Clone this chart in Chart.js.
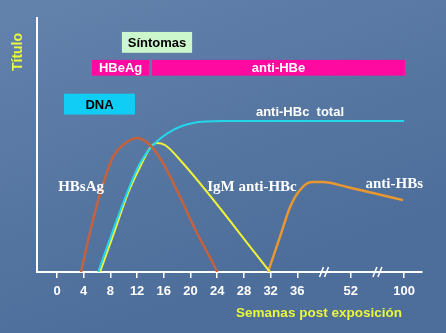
<!DOCTYPE html>
<html>
<head>
<meta charset="utf-8">
<script src="https://cdn.jsdelivr.net/npm/chart.js@4"></script>
<style>
  html, body { margin: 0; padding: 0; background: #5878a4; }
  #wrap { width: 446px; height: 333px; }
</style>
</head>
<body>
<div id="wrap"><canvas id="mycanvas" width="446" height="333"></canvas></div>
<script>
// x values are tick positions on the (broken) week axis: 0 = week 0, 1 = week 4 ... 9 = week 36, 11 = week 52, 13 = week 100
var tickLabels = ['0', '4', '8', '12', '16', '20', '24', '28', '32', '36', '', '52', '', '100'];
var breakTicks = [10, 12];

var hbsagX = [0.9, 0.94, 1.35, 1.69, 2.10, 2.62, 3.0, 3.48, 3.97, 4.61, 5.24, 5.84, 6.0];
var hbsagY = [0, 2, 20.5, 33.5, 45.3, 51.2, 52.8, 50, 42.9, 29.5, 15.4, 3.5, 0];

var hbcTotalX = [1.54, 2.10, 2.62, 3.11, 3.60, 4.34, 5.09, 6.22, 13.0];
var hbcTotalY = [0, 16.5, 31.1, 42.9, 50, 55.9, 58.7, 59.4, 59.4];

var igmX = [1.61, 2.17, 2.66, 3.18, 3.48, 3.75, 4.04, 4.61, 7.98];
var igmY = [0, 16.5, 31.1, 42.9, 48.8, 50.8, 50, 44.1, 0];

var hbsX = [7.9, 8.35, 8.73, 9.10, 9.55, 9.96, 10.86, 11.83, 12.96];
var hbsY = [0, 13.8, 25.6, 32.3, 35.4, 35.4, 33.5, 31.1, 28.3];

// marker bars: label, x range, y range
var boxLabels = ['Síntomas', 'HBeAg', 'anti-HBe', 'DNA'];
var boxX = [[2.43, 5.06], [1.31, 3.45], [3.56, 13.03], [0.26, 2.92]];
var boxY = [[86.3, 94.5], [77.3, 83.5], [77.3, 83.5], [62, 70.2]];
var boxColors = ['#ccf7cc', '#ff0aa0', '#ff0aa0', '#10cdf5'];
var boxText = ['#000000', '#ffffff', '#ffffff', '#000000'];

function pts(xs, ys) {
    var out = [];
    for (var i in xs) {
        out.push({x: xs[i], y: ys[i]});
    }
    return out;
}

var bgPlugin = {
    id: 'bg',
    beforeDraw: function(chart) {
        var c = chart.ctx;
        var g = c.createLinearGradient(0, 0, 120, 333);
        g.addColorStop(0, '#6383ad');
        g.addColorStop(1, '#4d6d9a');
        c.save();
        c.fillStyle = g;
        c.fillRect(0, 0, chart.width, chart.height);
        c.restore();
    }
};

var notesPlugin = {
    id: 'notes',
    afterDraw: function(chart) {
        var c = chart.ctx;
        var xs = chart.scales.x, ys = chart.scales.y;
        c.save();

        // bars on top
        for (var i = 0; i < boxLabels.length; i++) {
            var x0 = xs.getPixelForValue(boxX[i][0]);
            var x1 = xs.getPixelForValue(boxX[i][1]);
            var y0 = ys.getPixelForValue(boxY[i][1]);
            var y1 = ys.getPixelForValue(boxY[i][0]);
            c.fillStyle = boxColors[i];
            c.fillRect(x0, y0, x1 - x0, y1 - y0);
            c.fillStyle = boxText[i];
            c.font = 'bold 13px "Liberation Sans", Arial, sans-serif';
            c.textAlign = 'center';
            c.textBaseline = 'middle';
            c.fillText(boxLabels[i], (x0 + x1) / 2, (y0 + y1) / 2 + 1);
        }

        // curve labels
        c.fillStyle = '#ffffff';
        c.textBaseline = 'middle';
        c.textAlign = 'center';
        c.font = 'bold 13px "Liberation Sans", Arial, sans-serif';
        c.fillText('anti-HBc  total', xs.getPixelForValue(9.1), ys.getPixelForValue(62.8));
        c.font = 'bold 15px "Liberation Serif", "Times New Roman", serif';
        c.fillText('HBsAg', xs.getPixelForValue(0.9), ys.getPixelForValue(33.5));
        c.fillText('IgM anti-HBc', xs.getPixelForValue(7.3), ys.getPixelForValue(33.5));
        c.fillText('anti-HBs', xs.getPixelForValue(12.63), ys.getPixelForValue(34.6));

        // axis break marks
        c.strokeStyle = '#ffffff';
        c.lineWidth = 1.5;
        var ax = ys.getPixelForValue(0);
        breakTicks.forEach(function(t) {
            var px = xs.getPixelForValue(t);
            [-2.5, 2.5].forEach(function(d) {
                c.beginPath();
                c.moveTo(px + d - 2, ax + 5);
                c.lineTo(px + d + 2, ax - 5);
                c.stroke();
            });
        });

        // axis titles
        c.fillStyle = '#e9f83c';
        c.font = 'bold 13.5px "Liberation Sans", Arial, sans-serif';
        c.textAlign = 'center';
        c.fillText('Semanas post exposición', 319, 313);
        c.translate(18, 52);
        c.rotate(-Math.PI / 2);
        c.font = 'bold 14px "Liberation Sans", Arial, sans-serif';
        c.fillText('Título', 0, 0);
        c.restore();
    }
};

var chartdata = {
    datasets: [
        {label: 'HBsAg', data: pts(hbsagX, hbsagY), borderColor: '#c4623e', borderWidth: 2.5},
        {label: 'anti-HBc total', data: pts(hbcTotalX, hbcTotalY), borderColor: '#24d6ea', borderWidth: 2},
        {label: 'IgM anti-HBc', data: pts(igmX, igmY), borderColor: '#eef23a', borderWidth: 2},
        {label: 'anti-HBs', data: pts(hbsX, hbsY), borderColor: '#e8982e', borderWidth: 2.5}
    ]
};

var LineGraph = new Chart(document.getElementById('mycanvas'), {
    type: 'line',
    data: chartdata,
    plugins: [bgPlugin, notesPlugin],
    options: {
        responsive: false,
        animation: false,
        layout: {padding: {top: 18, right: 24, left: 0, bottom: 0}},
        elements: {
            point: {radius: 0},
            line: {cubicInterpolationMode: 'monotone', fill: false}
        },
        plugins: {legend: {display: false}, tooltip: {enabled: false}},
        scales: {
            x: {
                type: 'linear',
                min: -0.75,
                max: 13.67,
                afterFit: function(s) { s.height = 61; },
                afterBuildTicks: function(s) {
                    s.ticks = tickLabels.map(function(l, i) { return {value: i}; });
                },
                border: {color: '#ffffff', width: 2},
                grid: {
                    drawOnChartArea: false,
                    drawTicks: true,
                    tickLength: 6,
                    lineWidth: 1.5,
                    color: function(ctx) {
                        return breakTicks.indexOf(ctx.index) >= 0 ? 'rgba(0,0,0,0)' : '#ffffff';
                    }
                },
                ticks: {
                    autoSkip: false,
                    maxRotation: 0,
                    padding: 6,
                    color: '#ffffff',
                    font: {family: '"Liberation Sans", Arial, sans-serif', size: 13, weight: 'bold'},
                    callback: function(v) { return tickLabels[Math.round(v)]; }
                }
            },
            y: {
                min: 0,
                max: 100,
                afterFit: function(s) { s.width = 37; },
                border: {color: '#ffffff', width: 2},
                grid: {display: false},
                ticks: {display: false}
            }
        }
    }
});
</script>
</body>
</html>
